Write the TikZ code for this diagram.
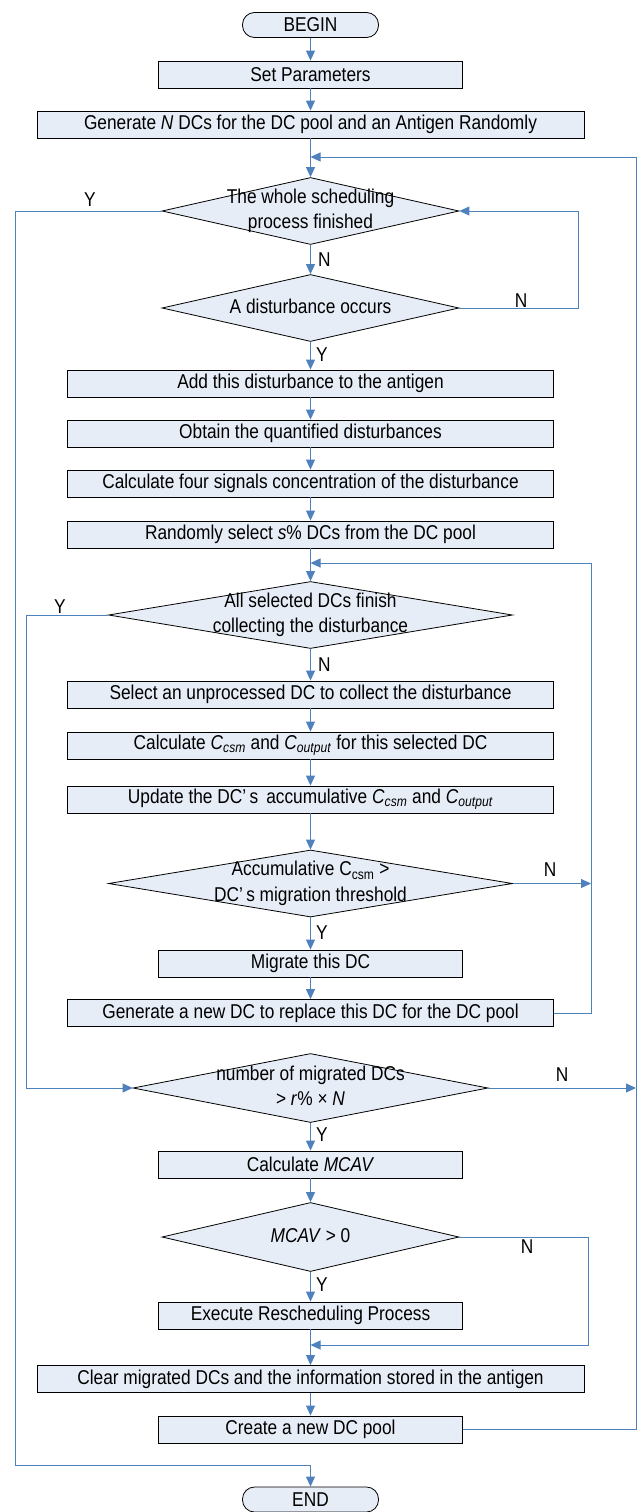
\documentclass[tikz,border=0pt]{standalone}
\usepackage{fontspec}
\setmainfont{Liberation Sans}[FakeStretch=0.865]
\usetikzlibrary{shapes.geometric,arrows.meta}
\definecolor{flowblue}{RGB}{79,129,189}
\definecolor{boxfill}{RGB}{231,237,247}
\newcommand{\csub}[2]{\textit{#1}\textsubscript{\textit{#2}}}
\newcommand{\dtext}[1]{\makebox[0pt]{\begin{tabular}{@{}c@{}}#1\end{tabular}}}
\tikzset{
  procbox/.style={draw=black, fill=boxfill, line width=0.8bp, minimum height=27bp, inner sep=0pt},
  termbox/.style={procbox, rounded corners=12bp, minimum width=136bp, minimum height=25bp},
  decision/.style={diamond, draw=black, fill=boxfill, line width=0.8bp, inner sep=0pt},
  flow/.style={draw=flowblue, line width=0.9bp},
  flowarrow/.style={flow, -{Triangle[length=10bp,width=9bp]}},
  tag/.style={inner sep=0pt}
}
\begin{document}
\begin{tikzpicture}[x=1bp, y=1bp, font=\fontsize{20bp}{23bp}\selectfont]
  \useasboundingbox (0,0) rectangle (638,-1512);
  \renewcommand{\arraystretch}{1.1}

  % main column
  \node[termbox] (begin) at (310.5,-25) {BEGIN};
  \node[procbox, minimum width=304bp] (setpar) at (310.5,-74.5) {Set Parameters};
  \node[procbox, minimum width=547bp] (genpool) at (310.5,-124.5) {Generate \textit{N} DCs for the DC pool and an Antigen Randomly};
  \node[decision, minimum width=297bp, minimum height=67bp] (finished) at (310.5,-211) {\dtext{The whole scheduling\\process finished}};
  \node[decision, minimum width=297bp, minimum height=67bp] (occurs) at (310.5,-308) {\dtext{A disturbance occurs}};
  \node[procbox, minimum width=486bp] (adddist) at (310.5,-383.5) {Add this disturbance to the antigen};
  \node[procbox, minimum width=486bp] (quantify) at (310.5,-433.5) {Obtain the quantified disturbances};
  \node[procbox, minimum width=486bp] (signals) at (310.5,-483.5) {Calculate four signals concentration of the disturbance};
  \node[procbox, minimum width=486bp] (selects) at (310.5,-534.5) {Randomly select \textit{s}\% DCs from the DC pool};
  \node[decision, minimum width=404bp, minimum height=67bp] (allfinish) at (310.5,-615) {\dtext{All selected DCs finish\\collecting the disturbance}};
  \node[procbox, minimum width=486bp] (pickdc) at (310.5,-694.5) {Select an unprocessed DC to collect the disturbance};
  \node[procbox, minimum width=486bp] (calcc) at (310.5,-745.5) {Calculate \csub{C}{csm} and \csub{C}{output} for this selected DC};
  \node[procbox, minimum width=486bp] (updatec) at (310.5,-799.5) {Update the DC’\,s\, accumulative \csub{C}{csm} and \csub{C}{output}};
  \node[decision, minimum width=404bp, minimum height=67bp] (threshold) at (310.5,-883.5) {\dtext{Accumulative C\textsubscript{csm} >\\DC’\,s migration threshold}};
  \node[procbox, minimum width=304bp] (migrate) at (310.5,-963.5) {Migrate this DC};
  \node[procbox, minimum width=486bp] (newdc) at (310.5,-1013) {Generate a new DC to replace this DC for the DC pool};
  \node[decision, minimum width=355bp, minimum height=69bp] (nummig) at (310.5,-1088) {\dtext{number of migrated DCs\\> \textit{r}\% × \textit{N}}};
  \node[procbox, minimum width=304bp] (mcav) at (310.5,-1164.5) {Calculate \textit{MCAV}};
  \node[decision, minimum width=297bp, minimum height=69bp] (mcavpos) at (310.5,-1237) {\dtext{\textit{MCAV} > 0}};
  \node[procbox, minimum width=304bp] (resched) at (310.5,-1315.5) {Execute Rescheduling Process};
  \node[procbox, minimum width=547bp] (clear) at (310.5,-1379) {Clear migrated DCs and the information stored in the antigen};
  \node[procbox, minimum width=304bp] (newpool) at (310.5,-1429.5) {Create a new DC pool};
  \node[termbox] (end) at (310.5,-1499.5) {END};

  % junctions and bends
  \coordinate (jtop) at (310.5,-157);
  \coordinate (jsel) at (310.5,-563);
  \coordinate (jclr) at (310.5,-1345);
  \coordinate (leftout) at (15,-1465);
  \coordinate (leftin) at (26.5,-1088);
  \coordinate (rdist) at (578,-211);
  \coordinate (rdc) at (591,-563);
  \coordinate (rthr) at (591,-883.5);
  \coordinate (rmcav) at (588,-1345);
  \coordinate (rout) at (636,-157);
  \coordinate (rnum) at (636,-1088);

  % straight arrows
  \draw[flowarrow] (begin) -- (setpar);
  \draw[flowarrow] (setpar) -- (genpool);
  \draw[flowarrow] (genpool) -- (finished);
  \draw[flowarrow] (finished) -- (occurs);
  \draw[flowarrow] (occurs) -- (adddist);
  \draw[flowarrow] (adddist) -- (quantify);
  \draw[flowarrow] (quantify) -- (signals);
  \draw[flowarrow] (signals) -- (selects);
  \draw[flowarrow] (selects) -- (allfinish);
  \draw[flowarrow] (allfinish) -- (pickdc);
  \draw[flowarrow] (pickdc) -- (calcc);
  \draw[flowarrow] (calcc) -- (updatec);
  \draw[flowarrow] (updatec) -- (threshold);
  \draw[flowarrow] (threshold) -- (migrate);
  \draw[flowarrow] (migrate) -- (newdc);
  \draw[flowarrow] (nummig) -- (mcav);
  \draw[flowarrow] (mcav) -- (mcavpos);
  \draw[flowarrow] (mcavpos) -- (resched);
  \draw[flowarrow] (resched) -- (clear);
  \draw[flowarrow] (clear) -- (newpool);

  % loops
  \draw[flowarrow] (finished.west) -| (leftout) -| (end.north);
  \draw[flowarrow] (occurs.east) -| (rdist) -- (finished.east);
  \draw[flowarrow] (allfinish.west) -| (leftin) -- (nummig.west);
  \draw[flowarrow] (threshold.east) -- (rthr);
  \draw[flowarrow] (newdc.east) -| (rdc) -- (jsel);
  \draw[flowarrow] (nummig.east) -- (rnum);
  \draw[flowarrow] (mcavpos.east) -| (rmcav) -- (jclr);
  \draw[flowarrow] (newpool.east) -| (rout) -- (jtop);

  % Y / N tags
  \node[tag] (y1) at (90,-200) {Y};
  \node[tag, anchor=west] (n1) at (318,-260) {N};
  \node[tag] (n2) at (521,-301) {N};
  \node[tag, anchor=west] (y2) at (316,-355) {Y};
  \node[tag] (y3) at (60,-607) {Y};
  \node[tag, anchor=west] (n3) at (318,-665) {N};
  \node[tag] (n4) at (550,-870) {N};
  \node[tag, anchor=west] (y4) at (316,-933) {Y};
  \node[tag] (n5) at (562,-1075) {N};
  \node[tag, anchor=west] (y5) at (316,-1135) {Y};
  \node[tag] (n6) at (527,-1247) {N};
  \node[tag, anchor=west] (y6) at (316,-1285) {Y};
\end{tikzpicture}
\end{document}
